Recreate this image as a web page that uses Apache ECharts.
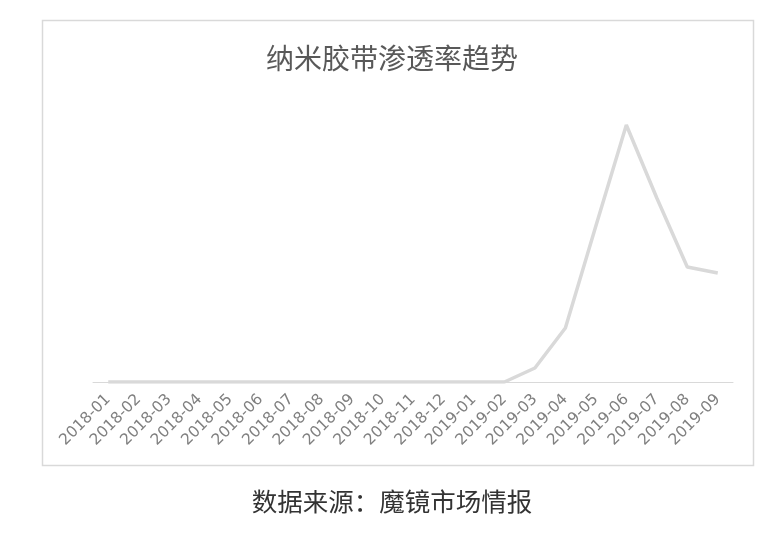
<!DOCTYPE html>
<html>
<head>
<meta charset="utf-8">
<script src="https://cdn.jsdelivr.net/npm/echarts@6/dist/echarts.min.js"></script>
<style>
  html, body { margin: 0; padding: 0; background: #fff; }
  #chart { width: 784px; height: 534px; }
</style>
</head>
<body>
<div id="chart"></div>
<script>
// months on the x axis
var months = ['2018-01', '2018-02', '2018-03', '2018-04', '2018-05', '2018-06', '2018-07',
    '2018-08', '2018-09', '2018-10', '2018-11', '2018-12', '2019-01', '2019-02',
    '2019-03', '2019-04', '2019-05', '2019-06', '2019-07', '2019-08', '2019-09'];

// penetration rate (arbitrary scale)
var rates = [0, 0, 0, 0, 0, 0, 0, 0, 0, 0, 0, 0, 0, 0,
    1.4, 5.4, 15.6, 25.7, 18.4, 11.5, 10.9];

var chartTitle = '纳米胶带渗透率趋势';
var sourceNote = '数据来源：魔镜市场情报';

var chart = echarts.init(document.getElementById('chart'));

var option = {
    backgroundColor: '#ffffff',
    animation: false,
    title: [
        {
            text: chartTitle,
            left: 'center',
            top: 39,
            textStyle: {
                fontFamily: 'Noto Sans CJK SC',
                fontSize: 28,
                fontWeight: 'normal',
                color: '#595959'
            }
        },
        {
            text: sourceNote,
            left: 'center',
            top: 484,
            textStyle: {
                fontFamily: 'Noto Sans CJK SC',
                fontSize: 25.5,
                fontWeight: 'normal',
                color: '#333333'
            }
        }
    ],
    graphic: [
        {
            type: 'rect',
            shape: { x: 42.5, y: 20.5, width: 711, height: 445 },
            style: { fill: 'none', stroke: '#d9d9d9', lineWidth: 1.5 },
            silent: true
        }
    ],
    grid: {
        left: 93,
        right: 51,
        top: 82,
        bottom: 152
    },
    xAxis: {
        type: 'category',
        data: months,
        boundaryGap: true,
        axisLine: { lineStyle: { color: '#d9d9d9', width: 1 } },
        axisTick: { show: false },
        axisLabel: {
            interval: 0,
            rotate: 45,
            margin: 15,
            fontFamily: 'DejaVu Sans',
            fontSize: 15.5,
            color: '#808080'
        }
    },
    yAxis: {
        type: 'value',
        min: 0,
        max: 30,
        show: false,
        splitLine: { show: false }
    },
    series: [
        {
            type: 'line',
            data: rates,
            symbol: 'none',
            lineStyle: { color: '#d9d9d9', width: 3.5 }
        }
    ]
};

chart.setOption(option);
</script>
</body>
</html>
